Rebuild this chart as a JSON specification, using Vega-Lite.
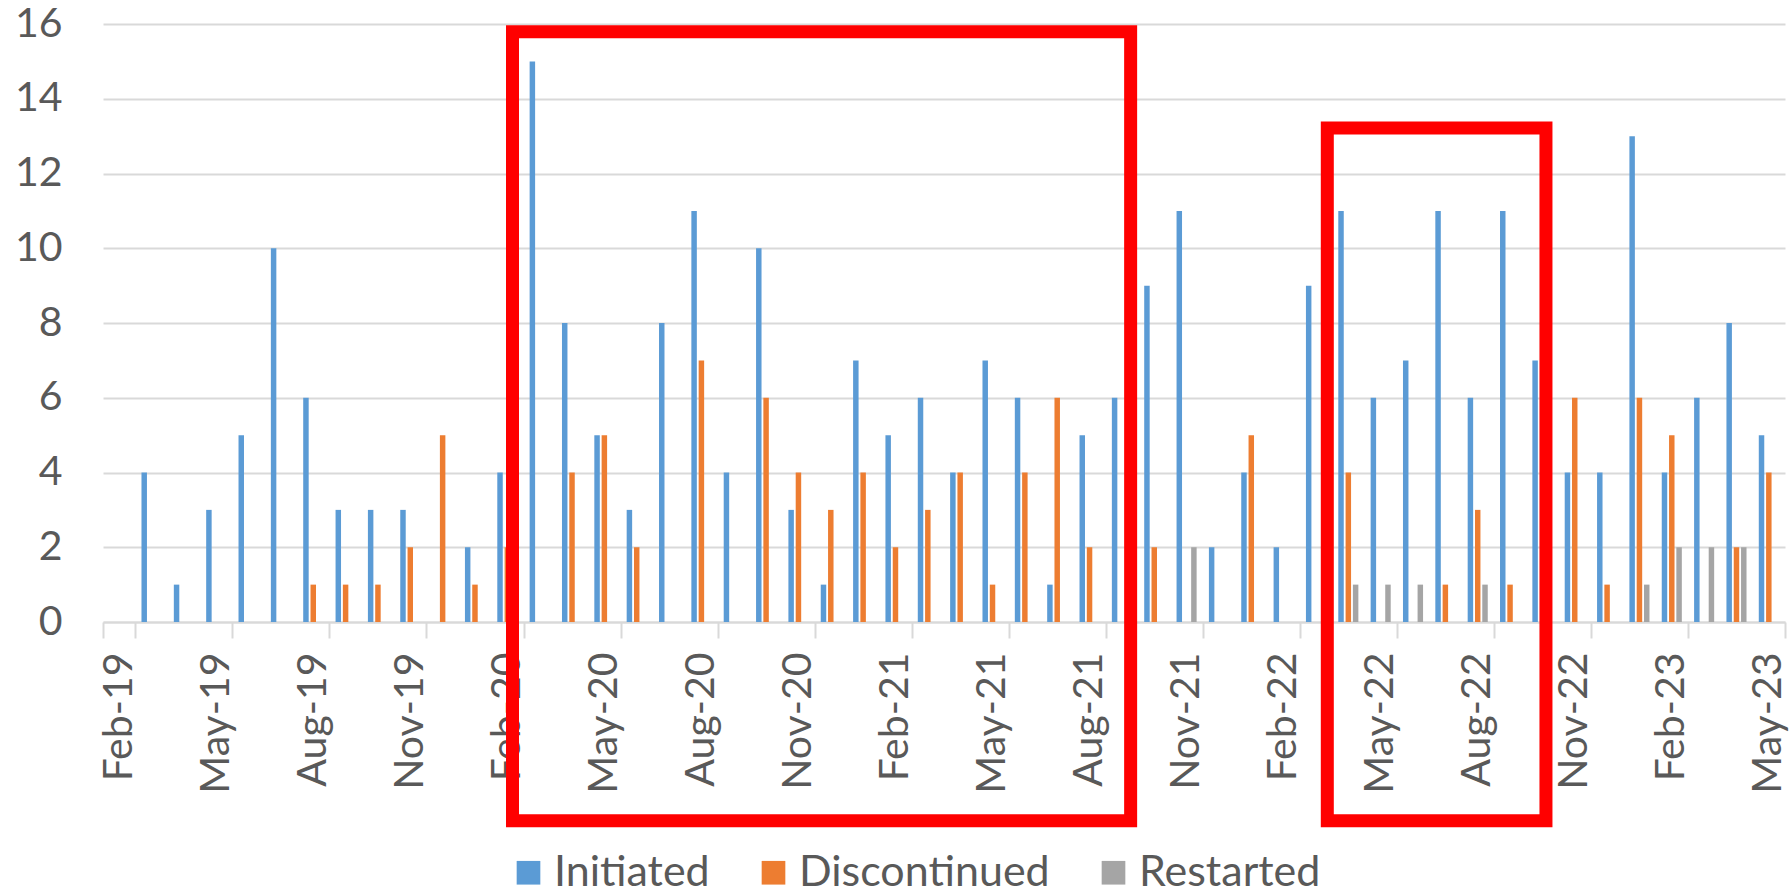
{
  "$schema": "https://vega.github.io/schema/vega-lite/v6.json",
  "autosize": {"type": "none"},
  "padding": {"left": 103, "top": 24, "right": 6, "bottom": 274},
  "width": 1682,
  "height": 598,
  "background": "white",
  "config": {
    "view": {"stroke": null},
    "font": "Lato",
    "axis": {"labelFont": "Lato", "labelColor": "#595959", "labelFontSize": 41}
  },
  "layer": [
    {
      "data": {
        "values": [
          {"month": "Mar-19", "series": "Initiated", "value": 4},
          {"month": "Apr-19", "series": "Initiated", "value": 1},
          {"month": "May-19", "series": "Initiated", "value": 3},
          {"month": "Jun-19", "series": "Initiated", "value": 5},
          {"month": "Jul-19", "series": "Initiated", "value": 10},
          {"month": "Aug-19", "series": "Initiated", "value": 6},
          {"month": "Aug-19", "series": "Discontinued", "value": 1},
          {"month": "Sep-19", "series": "Initiated", "value": 3},
          {"month": "Sep-19", "series": "Discontinued", "value": 1},
          {"month": "Oct-19", "series": "Initiated", "value": 3},
          {"month": "Oct-19", "series": "Discontinued", "value": 1},
          {"month": "Nov-19", "series": "Initiated", "value": 3},
          {"month": "Nov-19", "series": "Discontinued", "value": 2},
          {"month": "Dec-19", "series": "Discontinued", "value": 5},
          {"month": "Jan-20", "series": "Initiated", "value": 2},
          {"month": "Jan-20", "series": "Discontinued", "value": 1},
          {"month": "Feb-20", "series": "Initiated", "value": 4},
          {"month": "Feb-20", "series": "Discontinued", "value": 2},
          {"month": "Mar-20", "series": "Initiated", "value": 15},
          {"month": "Apr-20", "series": "Initiated", "value": 8},
          {"month": "Apr-20", "series": "Discontinued", "value": 4},
          {"month": "May-20", "series": "Initiated", "value": 5},
          {"month": "May-20", "series": "Discontinued", "value": 5},
          {"month": "Jun-20", "series": "Initiated", "value": 3},
          {"month": "Jun-20", "series": "Discontinued", "value": 2},
          {"month": "Jul-20", "series": "Initiated", "value": 8},
          {"month": "Aug-20", "series": "Initiated", "value": 11},
          {"month": "Aug-20", "series": "Discontinued", "value": 7},
          {"month": "Sep-20", "series": "Initiated", "value": 4},
          {"month": "Oct-20", "series": "Initiated", "value": 10},
          {"month": "Oct-20", "series": "Discontinued", "value": 6},
          {"month": "Nov-20", "series": "Initiated", "value": 3},
          {"month": "Nov-20", "series": "Discontinued", "value": 4},
          {"month": "Dec-20", "series": "Initiated", "value": 1},
          {"month": "Dec-20", "series": "Discontinued", "value": 3},
          {"month": "Jan-21", "series": "Initiated", "value": 7},
          {"month": "Jan-21", "series": "Discontinued", "value": 4},
          {"month": "Feb-21", "series": "Initiated", "value": 5},
          {"month": "Feb-21", "series": "Discontinued", "value": 2},
          {"month": "Mar-21", "series": "Initiated", "value": 6},
          {"month": "Mar-21", "series": "Discontinued", "value": 3},
          {"month": "Apr-21", "series": "Initiated", "value": 4},
          {"month": "Apr-21", "series": "Discontinued", "value": 4},
          {"month": "May-21", "series": "Initiated", "value": 7},
          {"month": "May-21", "series": "Discontinued", "value": 1},
          {"month": "Jun-21", "series": "Initiated", "value": 6},
          {"month": "Jun-21", "series": "Discontinued", "value": 4},
          {"month": "Jul-21", "series": "Initiated", "value": 1},
          {"month": "Jul-21", "series": "Discontinued", "value": 6},
          {"month": "Aug-21", "series": "Initiated", "value": 5},
          {"month": "Aug-21", "series": "Discontinued", "value": 2},
          {"month": "Sep-21", "series": "Initiated", "value": 6},
          {"month": "Oct-21", "series": "Initiated", "value": 9},
          {"month": "Oct-21", "series": "Discontinued", "value": 2},
          {"month": "Nov-21", "series": "Initiated", "value": 11},
          {"month": "Nov-21", "series": "Restarted", "value": 2},
          {"month": "Dec-21", "series": "Initiated", "value": 2},
          {"month": "Jan-22", "series": "Initiated", "value": 4},
          {"month": "Jan-22", "series": "Discontinued", "value": 5},
          {"month": "Feb-22", "series": "Initiated", "value": 2},
          {"month": "Mar-22", "series": "Initiated", "value": 9},
          {"month": "Apr-22", "series": "Initiated", "value": 11},
          {"month": "Apr-22", "series": "Discontinued", "value": 4},
          {"month": "Apr-22", "series": "Restarted", "value": 1},
          {"month": "May-22", "series": "Initiated", "value": 6},
          {"month": "May-22", "series": "Restarted", "value": 1},
          {"month": "Jun-22", "series": "Initiated", "value": 7},
          {"month": "Jun-22", "series": "Restarted", "value": 1},
          {"month": "Jul-22", "series": "Initiated", "value": 11},
          {"month": "Jul-22", "series": "Discontinued", "value": 1},
          {"month": "Aug-22", "series": "Initiated", "value": 6},
          {"month": "Aug-22", "series": "Discontinued", "value": 3},
          {"month": "Aug-22", "series": "Restarted", "value": 1},
          {"month": "Sep-22", "series": "Initiated", "value": 11},
          {"month": "Sep-22", "series": "Discontinued", "value": 1},
          {"month": "Oct-22", "series": "Initiated", "value": 7},
          {"month": "Nov-22", "series": "Initiated", "value": 4},
          {"month": "Nov-22", "series": "Discontinued", "value": 6},
          {"month": "Dec-22", "series": "Initiated", "value": 4},
          {"month": "Dec-22", "series": "Discontinued", "value": 1},
          {"month": "Jan-23", "series": "Initiated", "value": 13},
          {"month": "Jan-23", "series": "Discontinued", "value": 6},
          {"month": "Jan-23", "series": "Restarted", "value": 1},
          {"month": "Feb-23", "series": "Initiated", "value": 4},
          {"month": "Feb-23", "series": "Discontinued", "value": 5},
          {"month": "Feb-23", "series": "Restarted", "value": 2},
          {"month": "Mar-23", "series": "Initiated", "value": 6},
          {"month": "Mar-23", "series": "Restarted", "value": 2},
          {"month": "Apr-23", "series": "Initiated", "value": 8},
          {"month": "Apr-23", "series": "Discontinued", "value": 2},
          {"month": "Apr-23", "series": "Restarted", "value": 2},
          {"month": "May-23", "series": "Initiated", "value": 5},
          {"month": "May-23", "series": "Discontinued", "value": 4}
        ]
      },
      "mark": {"type": "bar"},
      "encoding": {
        "x": {
          "field": "month",
          "type": "ordinal",
          "scale": {
            "domain": ["Feb-19","Mar-19","Apr-19","May-19","Jun-19","Jul-19","Aug-19","Sep-19","Oct-19","Nov-19","Dec-19","Jan-20","Feb-20","Mar-20","Apr-20","May-20","Jun-20","Jul-20","Aug-20","Sep-20","Oct-20","Nov-20","Dec-20","Jan-21","Feb-21","Mar-21","Apr-21","May-21","Jun-21","Jul-21","Aug-21","Sep-21","Oct-21","Nov-21","Dec-21","Jan-22","Feb-22","Mar-22","Apr-22","May-22","Jun-22","Jul-22","Aug-22","Sep-22","Oct-22","Nov-22","Dec-22","Jan-23","Feb-23","Mar-23","Apr-23","May-23"],
            "paddingInner": 0,
            "paddingOuter": 0
          },
          "axis": {
            "title": null,
            "values": ["Feb-19","May-19","Aug-19","Nov-19","Feb-20","May-20","Aug-20","Nov-20","Feb-21","May-21","Aug-21","Nov-21","Feb-22","May-22","Aug-22","Nov-22","Feb-23","May-23"],
            "tickBand": "extent",
            "labelAngle": 270,
            "labelAlign": "right",
            "labelBaseline": "middle",
            "labelPadding": 14,
            "tickSize": 16,
            "tickColor": "#d9d9d9",
            "tickWidth": 2,
            "domainColor": "#d9d9d9",
            "domainWidth": 2,
            "grid": false
          }
        },
        "xOffset": {
          "field": "series",
          "type": "nominal",
          "scale": {"domain": ["Initiated", "Discontinued", "Restarted"], "paddingInner": 0.25, "paddingOuter": 0.84}
        },
        "y": {
          "field": "value",
          "type": "quantitative",
          "scale": {"domain": [0, 16], "nice": false},
          "axis": {
            "title": null,
            "values": [0, 2, 4, 6, 8, 10, 12, 14, 16],
            "domain": false,
            "ticks": false,
            "labelPadding": 41,
            "gridColor": "#d9d9d9",
            "gridWidth": 2
          }
        },
        "color": {
          "field": "series",
          "type": "nominal",
          "scale": {"domain": ["Initiated", "Discontinued", "Restarted"], "range": ["#5b9bd5", "#ed7d31", "#a5a5a5"]},
          "legend": {
            "title": null,
            "orient": "none",
            "direction": "horizontal",
            "legendX": 404,
            "legendY": 827,
            "symbolType": "square",
            "symbolSize": 560,
            "symbolStrokeWidth": 0,
            "labelFont": "Lato",
            "labelFontSize": 43,
            "labelLimit": 0,
            "labelColor": "#595959",
            "labelOffset": 4,
            "columnPadding": 42
          }
        }
      }
    },
    {
      "data": {
        "values": [
          {"x1": 12.66, "x2": 31.77, "y1": 15.79, "y2": -5.32},
          {"x1": 37.85, "x2": 44.61, "y1": 13.22, "y2": -5.32}
        ]
      },
      "mark": {"type": "rect", "fill": null, "filled": false, "stroke": "#ff0000", "strokeWidth": 13},
      "encoding": {
        "x": {"field": "x1", "type": "quantitative", "scale": {"domain": [0, 52], "nice": false, "zero": false}, "axis": null},
        "x2": {"field": "x2"},
        "y": {"field": "y1", "type": "quantitative", "scale": {"domain": [0, 16], "nice": false}},
        "y2": {"field": "y2"}
      }
    }
  ],
  "resolve": {"scale": {"x": "independent"}}
}
